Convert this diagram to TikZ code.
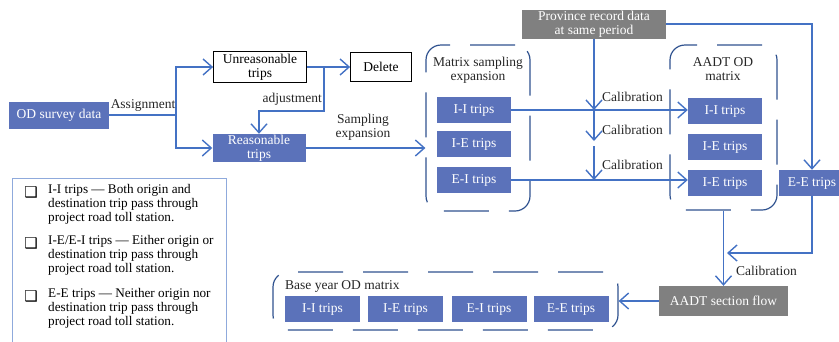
\documentclass[tikz,border=0pt]{standalone}
\usepackage{fontspec}
\setmainfont{Liberation Serif}
\newfontfamily\symfont{DejaVu Sans}
\usetikzlibrary{arrows.meta}
\definecolor{boxblue}{RGB}{91,114,186}
\definecolor{lineblue}{RGB}{68,114,196}
\definecolor{grpblue}{RGB}{47,82,143}
\definecolor{boxgray}{RGB}{128,128,128}
\definecolor{legblue}{RGB}{143,170,220}
\begin{document}
\begin{tikzpicture}[x=1pt,y=-1pt,
    every node/.style={font=\fontsize{13.5}{14}\selectfont},
    bluebox/.style={fill=boxblue,text=white,inner sep=0pt,minimum width=74pt,minimum height=26pt,align=center},
    whitebox/.style={draw=black,line width=0.8pt,fill=white,inner sep=0pt,align=center},
    graybox/.style={fill=boxgray,text=white,inner sep=0pt,align=center},
    grpframe/.style={draw=grpblue,line width=1.2pt,rounded corners=15pt,dash pattern=on 45pt off 20pt,inner sep=0pt},
    flow/.style={draw=lineblue,line width=1.4pt,-{Straight Barb[length=9pt,width=16pt]}},
    lbl/.style={inner sep=1pt,text=black!85}]
  % bounding box
  \useasboundingbox (0,0) rectangle (839,341);

  % survey data and checking
  \node[bluebox,minimum width=100pt,minimum height=27pt] (od) at (59,115) {OD survey data};
  \node[whitebox,minimum width=93pt,minimum height=31pt] (unr) at (260,67) {Unreasonable\\trips};
  \node[whitebox,minimum width=61pt,minimum height=29pt] (del) at (381,67) {Delete};
  \node[bluebox,minimum width=93pt,minimum height=28pt] (rea) at (259,148) {Reasonable\\trips};

  % matrix sampling expansion
  \node[grpframe,minimum width=104pt,minimum height=166pt] (msgrp) at (478,128) {};
  \node[lbl,align=center] (mstitle) at (478,70) {Matrix sampling\\expansion};
  \node[bluebox] (msii) at (474,110) {I-I trips};
  \node[bluebox] (msie) at (474,144) {I-E trips};
  \node[bluebox] (msei) at (474,180) {E-I trips};

  % AADT OD matrix
  \node[grpframe,minimum width=107pt,minimum height=165pt] (aagrp) at (723.5,127.5) {};
  \node[lbl,align=center] (aatitle) at (723,69) {AADT OD\\matrix};
  \node[bluebox] (aaii) at (725,111) {I-I trips};
  \node[bluebox] (aaie) at (725,147) {I-E trips};
  \node[bluebox] (aaiex) at (725,183) {I-E trips};
  \node[bluebox,minimum width=66pt] (ee) at (812,183) {E-E trips};

  \node[graybox,minimum width=144pt,minimum height=29pt] (prov) at (594,24) {Province record data\\at same period};
  \node[graybox,minimum width=129pt,minimum height=30pt] (sec) at (723.5,301) {AADT section flow};

  % base year OD matrix
  \node[grpframe,minimum width=345pt,minimum height=58pt] (bygrp) at (445.5,301) {};
  \node[lbl,anchor=west] (bytitle) at (284,286) {Base year OD matrix};
  \foreach \nm/\x/\txt in {byii/322.5/I-I,byie/405.5/I-E,byei/489/E-I,byee/571/E-E}
    \node[bluebox,minimum width=75pt] (\nm) at (\x,309) {\txt{} trips};

  % connectors
  \coordinate (split) at (176,115);
  \draw[flow] (od.east) -- (split) |- (unr.west);
  \draw[flow] (split) |- (rea.west);
  \node[lbl,above] (assign) at (143,113) {Assignment};
  \draw[flow] (unr.east) -- (del.west);
  \coordinate (adj) at (324,67);
  \draw[flow] (adj) -- ++(0,44) -| (rea.north);
  \node[lbl,anchor=south east] (adjlbl) at (323,107) {adjustment};
  \draw[flow] (rea.east) -- (rea.east -| msgrp.west);
  \node[lbl,align=center] (samp) at (363,127) {Sampling\\expansion};

  % calibration with province data
  \coordinate (k2) at (594,141);
  \coordinate (k3) at (594,146);
  \draw[flow] (prov.south) -- (prov.south |- msii.east);
  \draw[flow] (prov.south |- msii.east) -- (k2);
  \draw[flow] (k3) -- (prov.south |- msei.east);
  \foreach \y in {97,130,165}
    \node[lbl,anchor=west] at (601,\y) {Calibration};
  \draw[flow] (msii.east) -- (msii.east -| aaii.west);
  \draw[flow] (msei.east) -- (msei.east -| aaiex.west);
  \draw[flow] (prov.east) -| (ee.north);
  \coordinate (join) at (727,253);
  \draw[flow] (ee.south) |- (join);
  \draw[flow] (aagrp.south) -- (aagrp.south |- sec.north);
  \node[lbl,anchor=west] (callbl) at (735,271) {Calibration};
  \draw[flow] (sec.west) -- (bygrp.east);

  % legend
  \draw[legblue,line width=0.8pt] (12,178) rectangle (226,345);
  \foreach \y/\txt in {184/{I-I trips --- Both origin and\\destination trip pass through\\project road toll station.},
                       235/{I-E/E-I trips --- Either origin or\\destination trip pass through\\project road toll station.},
                       288/{E-E trips --- Neither origin nor\\destination trip pass through\\project road toll station.}}{
    \node[inner sep=0pt,font=\symfont\fontsize{15}{16}\selectfont] at (31,\y+8) {❑};
    \node[inner sep=0pt,anchor=north west,align=left,font=\fontsize{13.2}{14}\selectfont] at (48,\y) {\txt};
  }
\end{tikzpicture}
\end{document}
